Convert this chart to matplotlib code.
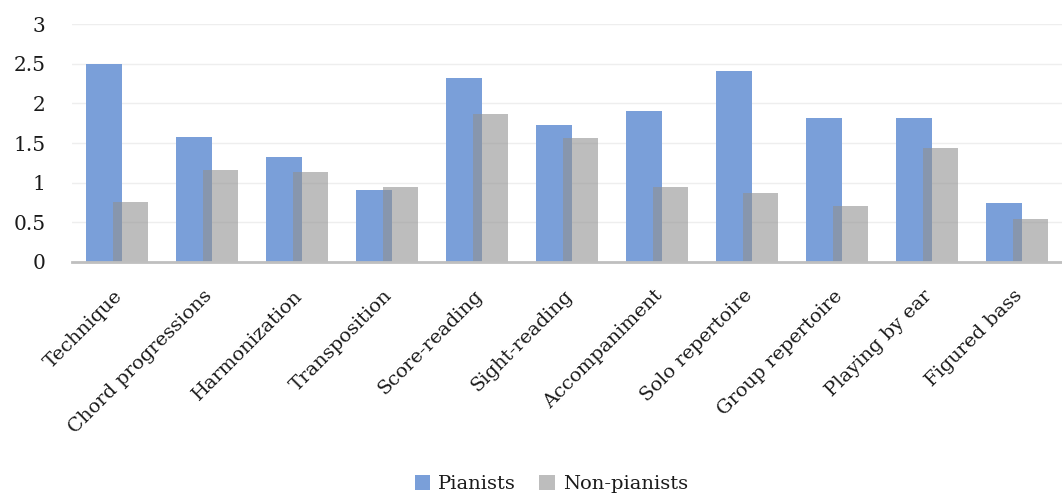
import matplotlib
matplotlib.use("Agg")
import matplotlib.pyplot as plt
import matplotlib.transforms as mtransforms
import numpy as np
from matplotlib.patches import Patch

categories = ["Technique", "Chord progressions", "Harmonization", "Transposition",
              "Score-reading", "Sight-reading", "Accompaniment", "Solo repertoire",
              "Group repertoire", "Playing by ear", "Figured bass"]
pianists = [2.5, 1.57, 1.32, 0.91, 2.32, 1.73, 1.90, 2.41, 1.81, 1.81, 0.74]
non_pianists = [0.75, 1.16, 1.13, 0.95, 1.87, 1.56, 0.95, 0.87, 0.70, 1.44, 0.54]
yticks = [0, 0.5, 1, 1.5, 2, 2.5, 3]
ytick_labels = ["0", "0.5", "1", "1.5", "2", "2.5", "3"]

plt.rcParams["font.family"] = ["DejaVu Serif"]

fig = plt.figure(figsize=(10.62, 4.97), dpi=100)
ax = fig.add_axes([0.0678, 0.4734, 0.9322, 0.4777])

x = np.arange(len(categories))
w = 0.39
blue = "#7a9fd9"
grey_solid = "#bdbdbd"

ax.bar(x - 0.144, pianists, width=w, color=blue, zorder=2)
ax.bar(x + 0.145, non_pianists, width=w, color="#919191", alpha=0.6, zorder=3,
       linewidth=0)

ax.set_xlim(-0.5, len(categories) - 0.5)
ax.set_ylim(0, 3)
ax.set_yticks(yticks)
ax.set_yticklabels(ytick_labels, fontsize=14.5, color="#1a1a1a")
ax.yaxis.grid(True, color="#eeeeee", linewidth=1.0, zorder=0)
ax.set_axisbelow(True)
ax.tick_params(axis="y", length=0, pad=19)
ax.tick_params(axis="x", length=0, pad=18)
ax.set_xticks(x)
ax.set_xticklabels(categories, rotation=45, ha="right", rotation_mode="anchor",
                   fontsize=14, color="#1a1a1a")
shift = mtransforms.ScaledTranslation(-4 / 100, 0, fig.dpi_scale_trans)
for lbl in ax.get_xticklabels():
    lbl.set_transform(lbl.get_transform() + shift)

for side in ["top", "right", "left"]:
    ax.spines[side].set_visible(False)
ax.spines["bottom"].set_color("#bfbfbf")
ax.spines["bottom"].set_linewidth(2)
ax.spines["bottom"].set_zorder(4)

handles = [Patch(facecolor=blue, label="Pianists"),
           Patch(facecolor=grey_solid, label="Non-pianists")]
fig.legend(handles=handles, loc="center", bbox_to_anchor=(0.519, 0.026), ncol=2,
           frameon=False, fontsize=14, handlelength=0.8, handleheight=0.8,
           handletextpad=0.4, columnspacing=1.2, labelcolor="#1a1a1a")

fig.savefig("out.png", dpi=100)
